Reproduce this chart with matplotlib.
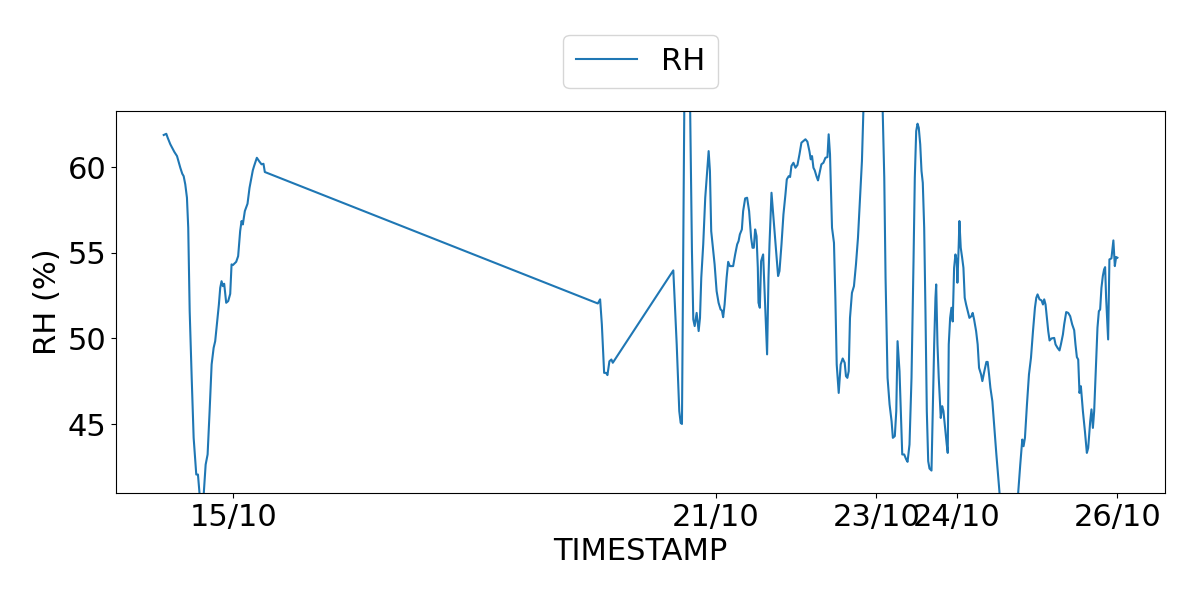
import pandas as pd
import matplotlib
matplotlib.use("Agg")
import matplotlib.pyplot as plt
import matplotlib.dates as mdates

YEAR = 2023

# lecturas por dia (hora, RH %)
t_1410 = ["03:16", "04:02", "04:27", "05:14", "06:25", "07:14", "08:13", "08:48", "09:13", "09:42",
          "10:12", "10:35", "11:01", "11:37", "12:12", "12:59", "13:29", "14:40", "15:47", "16:22",
          "16:58", "17:34", "18:10", "18:38", "19:08", "19:44", "20:08", "20:32", "20:56", "21:19",
          "21:55", "22:31", "23:07", "23:31", "23:55"]
rh_1410 = [61.87, 61.94, 61.71, 61.33, 60.89, 60.64, 59.96, 59.61, 59.47, 58.99,
           58.21, 56.46, 51.59, 47.70, 44.20, 42.06, 42.06, 39.3, 42.64, 43.23,
           45.76, 48.48, 49.45, 49.84, 50.82, 51.98, 52.95, 53.34, 53.05, 53.19,
           52.08, 52.18, 52.60, 54.32, 54.28]

t_1510 = ["00:54", "01:29", "02:05", "02:30", "02:53", "03:29", "04:17", "04:53", "05:52", "06:15",
          "07:04", "07:52", "08:28", "09:03", "09:27"]
rh_1510 = [54.47, 54.80, 56.26, 56.85, 56.65, 57.43, 57.86, 58.79, 59.81, 60.06,
           60.54, 60.31, 60.16, 60.19, 59.71]

t_1910 = ["12:52", "13:33", "14:04", "14:45", "15:20", "15:44", "16:20", "16:55", "17:20"]
rh_1910 = [52.04, 52.28, 50.82, 47.99, 47.99, 47.86, 48.67, 48.77, 48.58]

t_2010 = ["11:24", "12:25", "13:11", "13:36", "13:59", "14:58", "15:52", "16:58", "17:22", "17:47",
          "18:22", "18:58", "19:22", "19:45", "20:20", "20:56", "21:32", "21:57", "22:20", "22:43",
          "23:08", "23:44"]
rh_2010 = [53.97, 49.65, 45.76, 45.07, 45.01, 71.0, 72.0, 55.10, 51.11, 50.72,
           51.49, 50.43, 51.20, 53.54, 55.49, 58.21, 59.77, 60.93, 59.77, 56.26,
           55.49, 54.32]

t_2110 = ["00:20", "00:55", "01:31", "01:55", "02:17", "02:43", "03:19", "03:47", "04:17", "05:16",
          "05:52", "06:28", "06:53", "07:16", "07:52", "08:15", "08:51", "09:26", "10:02", "10:38",
          "11:03", "11:26", "11:50", "12:15", "12:38", "12:50", "13:14", "13:37", "14:13", "14:49",
          "15:24", "15:49", "16:07", "16:43", "17:19", "18:05", "18:41", "19:06", "19:42", "20:17",
          "20:53", "21:17", "21:52", "22:16", "22:40", "23:16", "23:52"]
rh_2110 = [52.76, 52.08, 51.69, 51.63, 51.24, 51.98, 53.54, 54.47, 54.22, 54.22,
           54.90, 55.49, 55.68, 56.07, 56.36, 57.43, 58.17, 58.21, 57.43, 55.87,
           55.29, 55.29, 56.36, 55.97, 54.12, 52.08, 51.79, 54.51, 54.90, 51.98,
           49.07, 53.54, 55.49, 58.50, 57.04, 55.10, 53.64, 53.93, 55.49, 57.24,
           58.41, 59.28, 59.47, 59.42, 60.06, 60.25, 59.96]

t_2210 = ["00:28", "01:04", "01:39", "02:15", "02:51", "03:26", "04:02", "04:26", "04:49", "05:14",
          "05:37", "06:13", "06:36", "07:12", "07:37", "08:13", "08:49", "09:25", "09:47", "10:11",
          "10:47", "11:22", "11:47", "12:11", "12:47", "13:22", "13:58", "14:34", "14:57", "15:22",
          "15:46", "16:09", "16:44", "17:20", "17:56", "18:32", "19:07", "19:43", "20:33", "21:26",
          "22:38", "23:47"]
rh_2210 = [60.12, 60.74, 61.42, 61.52, 61.62, 61.48, 60.93, 60.45, 60.64, 59.96,
           59.81, 59.42, 59.22, 59.77, 60.16, 60.25, 60.54, 60.58, 61.91, 60.74,
           56.46, 55.58, 52.37, 48.48, 46.82, 48.48, 48.83, 48.58, 47.80, 47.70,
           48.09, 51.20, 52.66, 53.05, 54.32, 55.87, 58.02, 60.35, 66.0, 70.0,
           72.0, 71.5]

t_2310 = ["00:59", "01:35", "02:23", "02:46", "03:22", "03:58", "04:34", "04:57", "05:32", "05:58",
          "06:21", "06:56", "07:20", "07:45", "08:20", "08:56", "09:20", "09:55", "10:31", "11:07",
          "11:30", "11:55", "12:19", "12:41", "13:07", "13:30", "13:53", "14:18", "14:41", "15:05",
          "15:30", "15:53", "16:29", "16:52", "17:17", "17:40", "17:53", "18:16", "18:39", "19:15",
          "19:40", "20:03", "20:26", "21:02", "21:20", "21:38", "22:03", "22:26", "22:49", "23:14",
          "23:38"]
rh_2310 = [69.0, 66.0, 59.38, 53.54, 47.70, 46.15, 45.17, 44.20, 44.30, 45.76,
           49.84, 48.09, 45.76, 43.23, 43.23, 42.94, 42.80, 43.81, 47.70, 54.51,
           59.38, 62.10, 62.53, 62.29, 61.33, 59.77, 59.08, 56.46, 51.59, 45.76,
           42.84, 42.41, 42.29, 45.76, 49.65, 52.37, 53.15, 49.65, 47.70, 45.36,
           46.05, 45.76, 44.98, 43.81, 43.32, 49.65, 51.20, 51.79, 50.99, 54.12,
           54.90]

t_2410 = ["00:01", "00:13", "00:37", "00:49", "01:13", "01:38", "02:01", "02:24", "02:49", "03:25",
          "03:48", "04:24", "04:47", "05:12", "05:48", "06:16", "06:41", "07:17", "07:40", "08:16",
          "08:52", "09:15", "09:40", "10:04", "10:39", "11:15", "11:51", "12:26", "13:38", "15:07",
          "16:37", "17:48", "18:59", "19:35", "19:58", "20:23", "20:59", "21:35", "22:11", "22:47",
          "23:22", "23:46"]
rh_2410 = [54.51, 53.25, 55.49, 56.85, 55.29, 54.71, 54.12, 52.37, 51.98, 51.49,
           51.20, 51.30, 51.49, 51.11, 50.43, 49.65, 48.28, 47.90, 47.51, 48.09,
           48.63, 48.63, 47.90, 47.12, 46.34, 44.78, 43.23, 41.86, 39.0, 37.0,
           37.5, 39.5, 42.64, 44.10, 43.71, 44.20, 46.15, 47.90, 48.87, 50.43,
           51.79, 52.37]

t_2510 = ["00:09", "00:44", "01:20", "01:46", "02:08", "02:32", "02:57", "03:20", "03:44", "04:19",
          "05:07", "05:31", "06:07", "06:42", "07:07", "07:43", "08:06", "08:42", "09:18", "09:53",
          "10:29", "11:05", "11:28", "11:53", "12:17", "12:40", "13:05", "13:41", "14:17", "14:52",
          "15:16", "15:52", "16:15", "16:40", "17:03", "17:26", "18:02", "18:27", "18:50", "19:13",
          "19:38", "20:01", "20:19", "20:37", "21:13", "21:36", "22:12", "22:47", "23:13", "23:36",
          "23:59"]
rh_2510 = [52.57, 52.28, 52.22, 51.98, 52.28, 51.98, 51.20, 50.43, 49.88, 50.00,
           50.03, 49.65, 49.45, 49.30, 49.65, 50.23, 50.82, 51.54, 51.49, 51.30,
           50.82, 50.48, 49.65, 48.91, 48.77, 46.82, 47.21, 45.76, 44.59, 43.32,
           43.61, 45.17, 45.86, 44.78, 45.76, 47.70, 50.62, 51.59, 51.69, 52.95,
           53.64, 54.03, 54.16, 52.37, 49.94, 54.61, 54.67, 55.72, 54.22, 54.75,
           54.71]

days = ["14/10", "15/10", "19/10", "20/10", "21/10", "22/10", "23/10", "24/10", "25/10"]
day_times = [t_1410, t_1510, t_1910, t_2010, t_2110, t_2210, t_2310, t_2410, t_2510]
day_rh = [rh_1410, rh_1510, rh_1910, rh_2010, rh_2110, rh_2210, rh_2310, rh_2410, rh_2510]

tick_labels = ["15/10", "21/10", "23/10", "24/10", "26/10"]
y_limits = (40.97, 63.27)


def build_frame():
    """Junta las lecturas de todos los dias en un DataFrame."""
    stamps, values = [], []
    for day, times, vals in zip(days, day_times, day_rh):
        for t, v in zip(times, vals):
            stamps.append(f"{day}/{YEAR} {t}")
            values.append(v)
    df = pd.DataFrame({"TIMESTAMP": pd.to_datetime(stamps, format="%d/%m/%Y %H:%M"),
                       "RH": values})
    return df


def main():
    df = build_frame()

    fig = plt.figure(figsize=(12, 6), dpi=100)
    ax = fig.add_axes([0.0967, 0.178, 0.8742, 0.637])
    ax.plot(df["TIMESTAMP"], df["RH"], color="#1f77b4", lw=1.5, label="RH")

    ticks = pd.to_datetime([f"{d}/{YEAR}" for d in tick_labels], format="%d/%m/%Y")
    ax.set_xticks(ticks)
    ax.xaxis.set_major_formatter(mdates.DateFormatter("%d/%m"))
    ax.set_ylim(*y_limits)

    ax.tick_params(labelsize=22)
    ax.set_xlabel("TIMESTAMP", fontsize=22, labelpad=4)
    ax.set_ylabel("RH (%)", fontsize=22)
    ax.legend(loc="lower center", bbox_to_anchor=(0.5, 1.02), fontsize=22)

    fig.savefig("out.png", dpi=100)


if __name__ == '__main__':
    main()
